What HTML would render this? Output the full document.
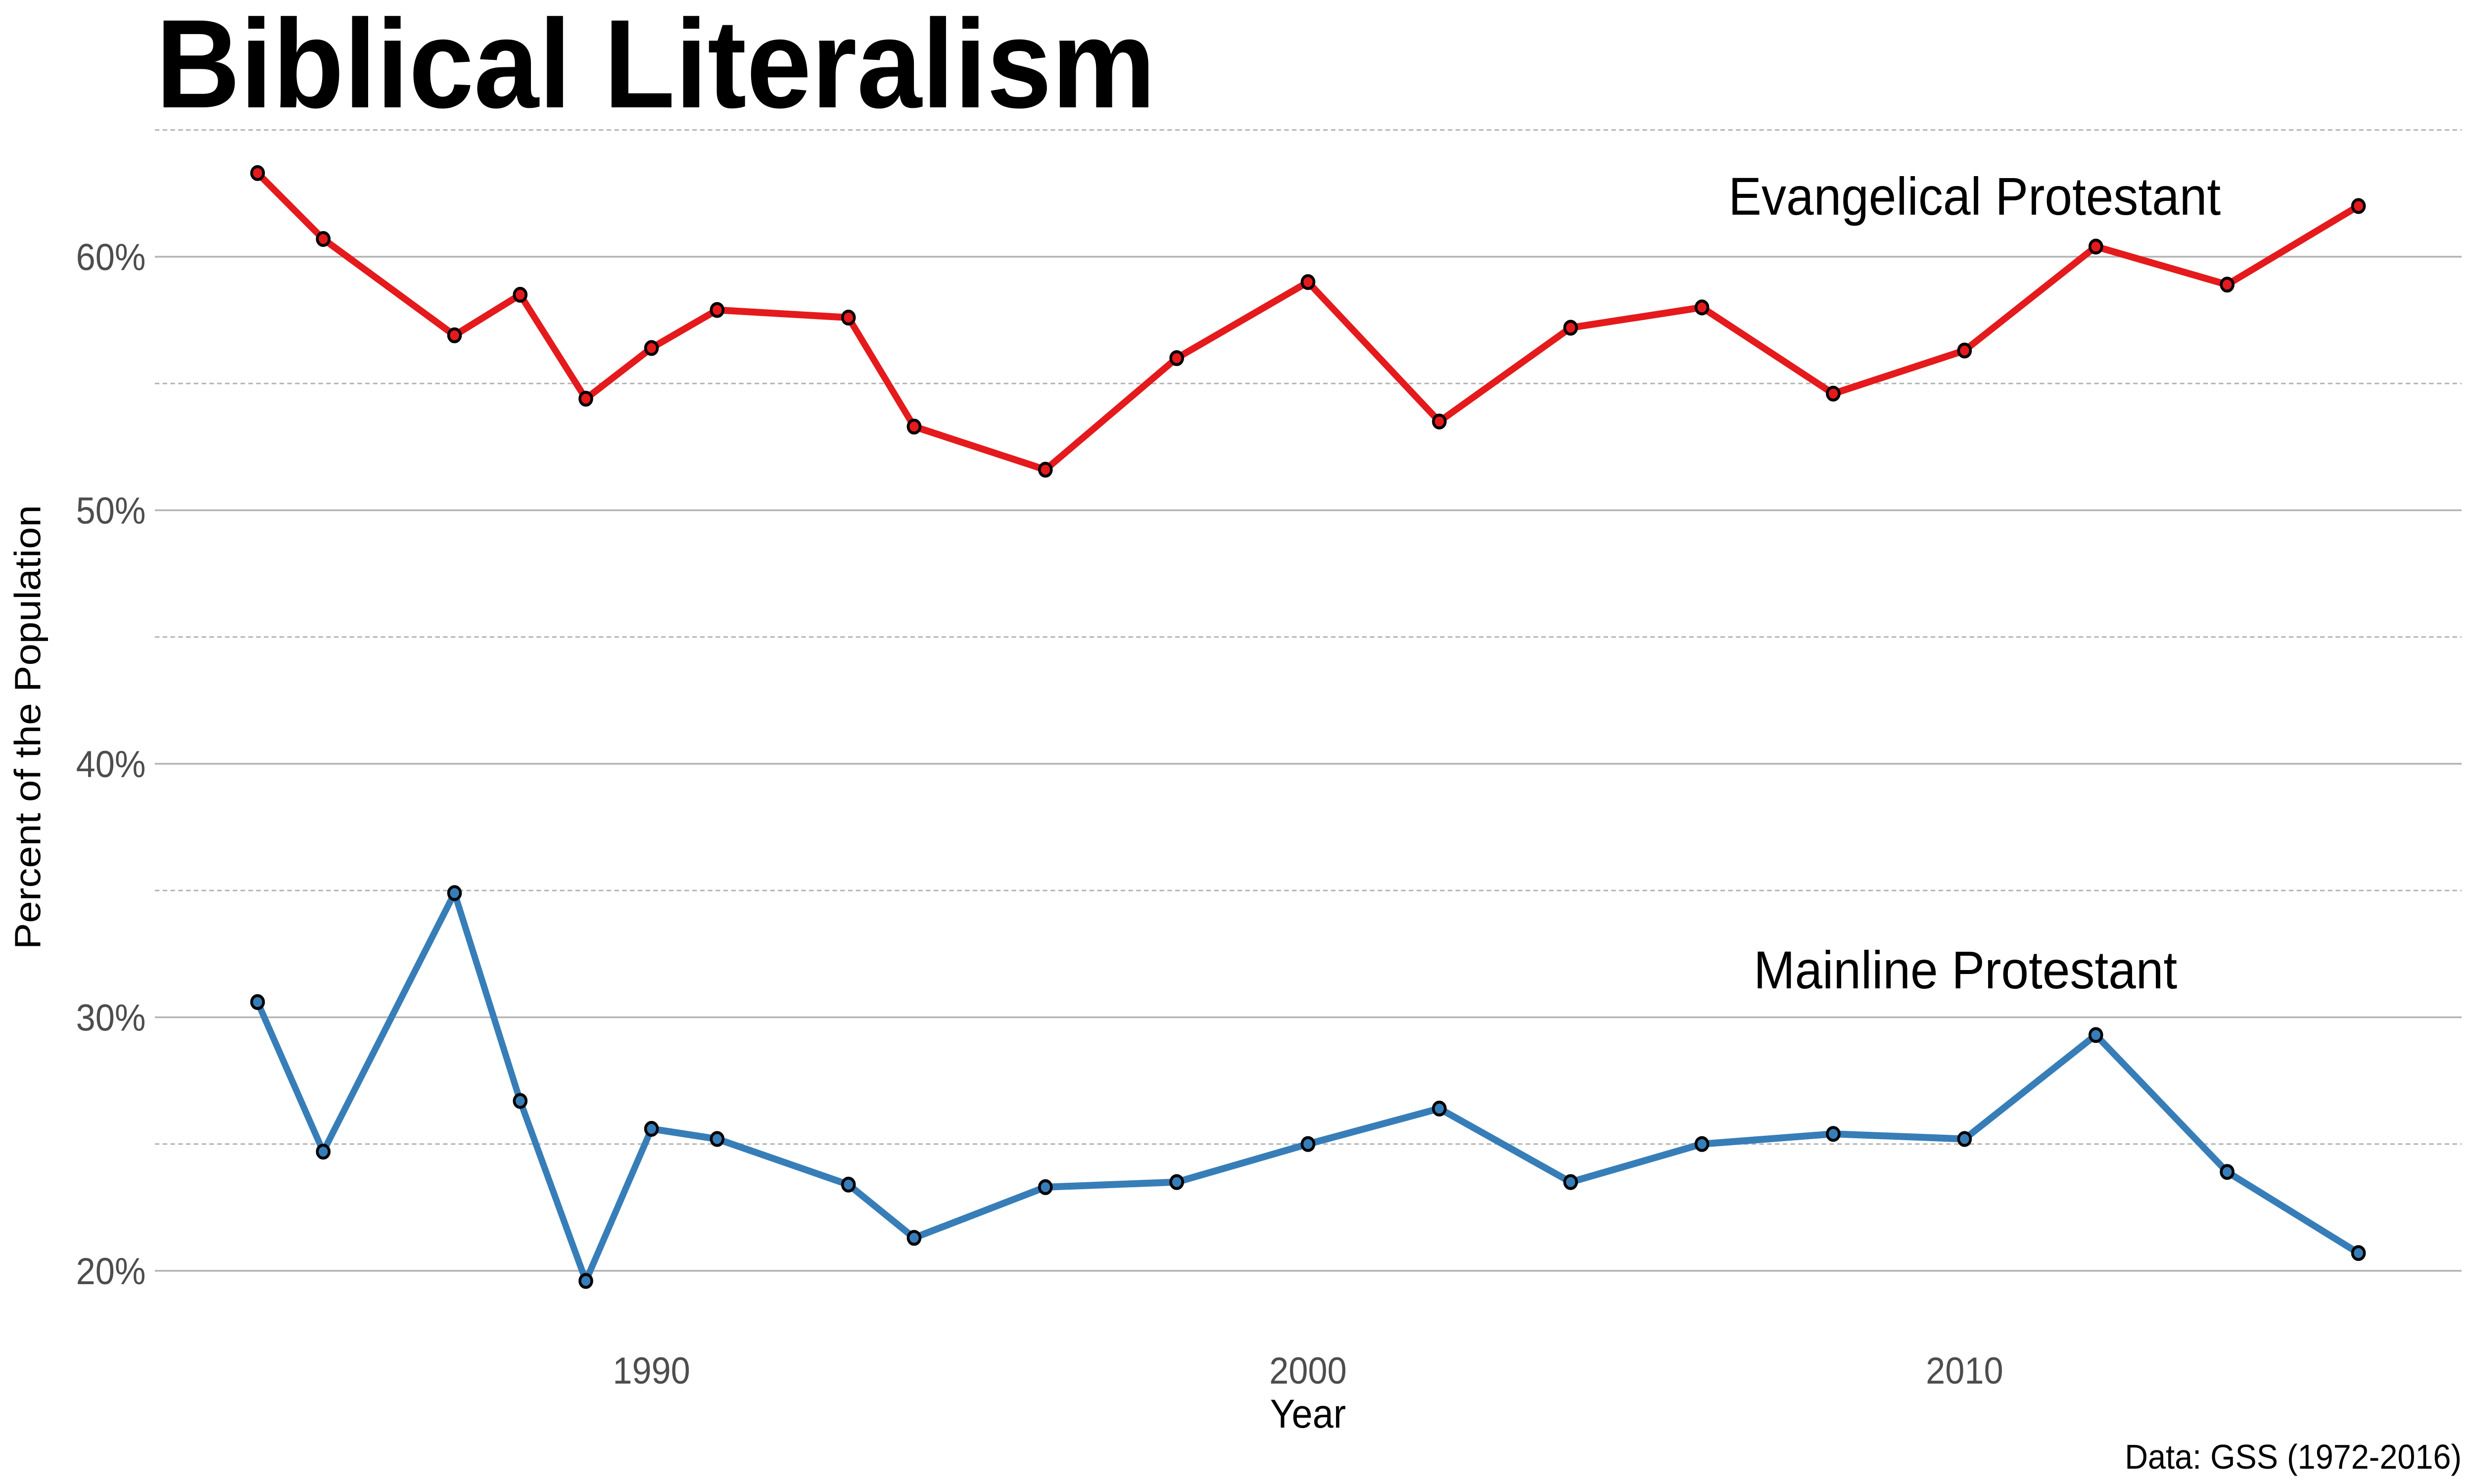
<!DOCTYPE html>
<html><head><meta charset="utf-8"><style>
html,body{margin:0;padding:0;background:#fff;overflow:hidden;width:100%;height:100%}
svg{display:block;font-family:"Liberation Sans",sans-serif;width:100vw;height:100vh}
</style></head><body>
<svg id="chart" viewBox="0 0 5400 3000" preserveAspectRatio="none" xmlns="http://www.w3.org/2000/svg">
<rect width="5400" height="3000" fill="#fff"/>
<text x="340" y="217" font-size="255" font-weight="bold" fill="#000">Biblical Literalism</text>
<g id="grid"></g>
<g id="ticks"></g>
<g id="series"></g>
<text x="4310" y="434" font-size="108" text-anchor="middle" fill="#000">Evangelical Protestant</text>
<text x="4290" y="1998" font-size="108" text-anchor="middle" fill="#000">Mainline Protestant</text>
<text transform="translate(88,1470) rotate(-90)" font-size="80" text-anchor="middle" fill="#000">Percent of the Population</text>
<text x="2855" y="2886" font-size="82" text-anchor="middle" fill="#000">Year</text>
<text x="5373" y="2969" font-size="70" text-anchor="end" fill="#000">Data: GSS (1972-2016)</text>
</svg>
<script>
const years = [1984,1985,1987,1988,1989,1990,1991,1993,1994,1996,1998,2000,2002,2004,2006,2008,2010,2012,2014,2016];
const evangelical = [63.3,60.7,56.9,58.5,54.4,56.4,57.9,57.6,53.3,51.6,56.0,59.0,53.5,57.2,58.0,54.6,56.3,60.4,58.9,62.0];
const mainline = [30.6,24.7,34.9,26.7,19.6,25.6,25.2,23.4,21.3,23.3,23.5,25.0,26.4,23.5,25.0,25.4,25.2,29.3,23.9,20.7];
const yTicks = [20,30,40,50,60];
const yMinor = [25,35,45,55,65];
const xTicks = [1990,2000,2010];

const NS = "http://www.w3.org/2000/svg";
const X0 = 338, X1 = 5373;
function xs(y){ return 1422 + (y - 1990) * 143.3; }
function ys(v){ return 2569 - (v - 20) * 51.25; }
function mk(tag, attrs, parent){ const e = document.createElementNS(NS, tag); for (const k in attrs) e.setAttribute(k, attrs[k]); parent.appendChild(e); return e; }

const grid = document.getElementById('grid');
const ticks = document.getElementById('ticks');
const ser = document.getElementById('series');

yMinor.forEach(v => {
  const l = mk('line', {x1:X0, x2:X1, y1:ys(v), y2:ys(v), stroke:'#b3b3b3', 'stroke-width':3, 'stroke-dasharray':'10,7'}, grid);
  
  
});
yTicks.forEach(v => {
  const l = mk('line', {x1:X0, x2:X1, y1:ys(v), y2:ys(v), stroke:'#b3b3b3', 'stroke-width':3.5}, grid);
  
  
  const t = mk('text', {x:318, y:ys(v)+27, 'font-size':76, 'text-anchor':'end', fill:'#4d4d4d'}, ticks);
  t.textContent = v + '%';
  
  
});
xTicks.forEach(v => {
  const t = mk('text', {x:xs(v), y:2797, 'font-size':76, 'text-anchor':'middle', fill:'#4d4d4d'}, ticks);
  t.textContent = v;
  
  
});

function drawSeries(vals, color, name){
  const g = mk('g', {}, ser);
  
  
  const pts = years.map((y,i) => xs(y) + ',' + ys(vals[i])).join(' ');
  const pl = mk('polyline', {points:pts, fill:'none', stroke:color, 'stroke-width':14, 'stroke-linejoin':'round'}, g);
  
  
  years.forEach((y,i) => {
    const c = mk('circle', {cx:xs(y), cy:ys(vals[i]), r:13, fill:color, stroke:'#000', 'stroke-width':6}, g);
    
    
  });
}
drawSeries(evangelical, '#e41a1c', 'evangelical');
drawSeries(mainline, '#377eb8', 'mainline');
</script>
</body></html>
